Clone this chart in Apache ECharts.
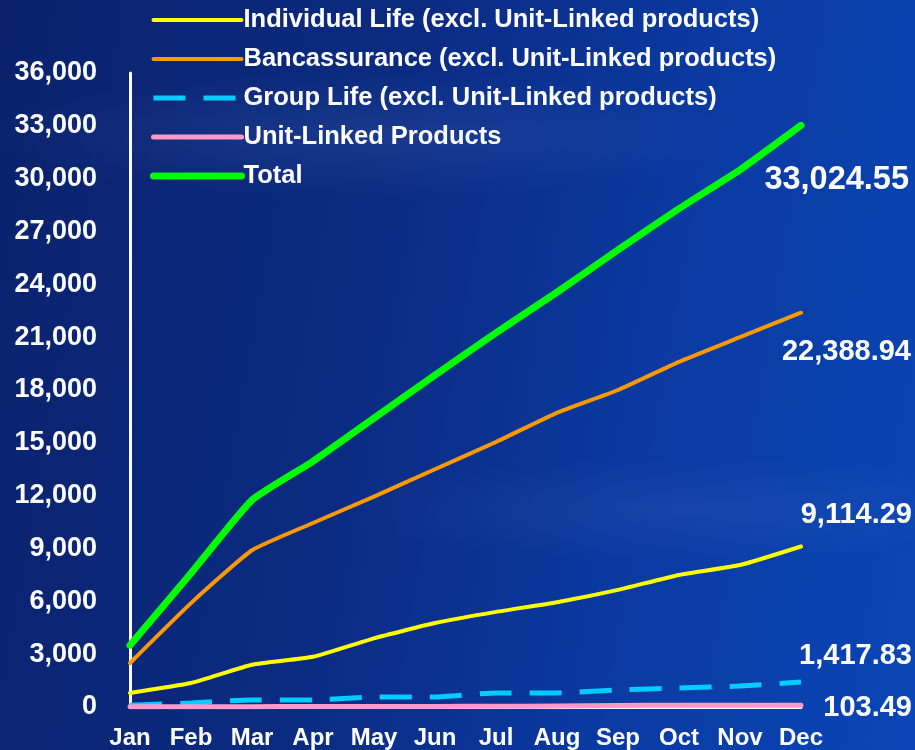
<!DOCTYPE html>
<html>
<head>
<meta charset="utf-8">
<script src="https://cdn.jsdelivr.net/npm/echarts@6/dist/echarts.min.js"></script>
<style>
  html, body { margin: 0; padding: 0; }
  body {
    width: 915px; height: 750px; overflow: hidden;
    background:
      radial-gradient(ellipse 60% 12% at 40% 18%, rgba(120,150,220,0.14), rgba(0,0,0,0) 70%),
      radial-gradient(ellipse 55% 10% at 75% 68%, rgba(120,150,220,0.10), rgba(0,0,0,0) 70%),
      linear-gradient(100deg, #0a226c 0%, #0b2b82 40%, #0a3aa2 70%, #0a46b6 100%);
  }
  #chart { width: 915px; height: 750px; }
</style>
</head>
<body>
<div id="chart"></div>
<script>
const months = ['Jan', 'Feb', 'Mar', 'Apr', 'May', 'Jun', 'Jul', 'Aug', 'Sep', 'Oct', 'Nov', 'Dec']
const individualLife = [800, 1360, 2400, 2850, 3900, 4770, 5400, 5950, 6650, 7500, 8060, 9114.29]
const bancassurance = [2500, 5900, 8900, 10450, 11950, 13500, 15050, 16700, 18000, 19600, 21000, 22388.94]
const groupLife = [100, 230, 400, 400, 570, 570, 800, 800, 970, 1080, 1190, 1417.83]
const unitLinked = [10, 15, 20, 25, 30, 35, 40, 50, 90, 95, 100, 103.49]
const total = [3500, 7600, 11750, 13950, 16400, 18850, 21250, 23550, 25950, 28300, 30500, 33024.55]
const yTicks = { min: 0, max: 36000, interval: 3000 }

const font = '"Liberation Sans", Arial, sans-serif'
const chart = echarts.init(document.getElementById('chart'))

const fmt = v => v.toLocaleString('en-US', { minimumFractionDigits: 2, maximumFractionDigits: 2 })

// value label at the end of each line, right-aligned at the chart edge
const endLabel = (dx, dy, size) => ({
  show: true,
  align: 'right',
  verticalAlign: 'middle',
  offset: [dx, dy],
  fontFamily: font,
  fontWeight: 'bold',
  fontSize: size,
  color: '#fff',
  formatter: p => fmt(p.value)
})

const lineSeries = (name, data, color, width, label, extra) => Object.assign({
  name,
  type: 'line',
  data,
  symbol: 'none',
  smooth: 0.15,
  lineStyle: { color, width, cap: 'round', join: 'round' },
  itemStyle: { color },
  endLabel: label,
  emphasis: { disabled: true }
}, extra || {})

const legendItem = (name, width) => ({ name, lineStyle: { width } })

const option = {
  backgroundColor: 'transparent',
  animation: false,
  textStyle: { fontFamily: font },
  legend: {
    orient: 'vertical',
    left: 150,
    top: 7,
    padding: 0,
    itemWidth: 88,
    itemHeight: 18,
    itemGap: 13,
    itemStyle: { opacity: 0 },
    textStyle: { fontFamily: font, fontWeight: 'bold', fontSize: 25.5, lineHeight: 26, color: '#fff', padding: [0, 0, 0, -3] },
    data: [
      legendItem('Individual Life (excl. Unit-Linked products)', 4),
      legendItem('Bancassurance (excl. Unit-Linked products)', 4),
      legendItem('Group Life (excl. Unit-Linked products)', 5),
      legendItem('Unit-Linked Products', 5),
      legendItem('Total', 7)
    ]
  },
  grid: { left: 130, right: 114, top: 73, bottom: 43 },
  xAxis: {
    type: 'category',
    data: months,
    boundaryGap: false,
    axisLine: { lineStyle: { color: '#fff', width: 3 } },
    axisTick: { show: false },
    axisLabel: { interval: 0, fontFamily: font, fontWeight: 'bold', fontSize: 24, color: '#fff', margin: 19 },
    splitLine: { show: false }
  },
  yAxis: {
    type: 'value',
    min: yTicks.min,
    max: yTicks.max,
    interval: yTicks.interval,
    axisLine: { show: true, lineStyle: { color: '#fff', width: 3 } },
    axisTick: { show: false },
    splitLine: { show: false },
    axisLabel: {
      fontFamily: font, fontWeight: 'bold', fontSize: 27, color: '#fff', margin: 33,
      formatter: v => v.toLocaleString('en-US')
    }
  },
  series: [
    lineSeries('Individual Life (excl. Unit-Linked products)', individualLife, '#ffff00', 4, endLabel(103, -31, 29)),
    lineSeries('Bancassurance (excl. Unit-Linked products)', bancassurance, '#ff9900', 4, endLabel(102, 39, 29)),
    lineSeries('Group Life (excl. Unit-Linked products)', groupLife, '#00ccff', 5, endLabel(103, -26, 29),
      { lineStyle: { color: '#00ccff', width: 5, type: [32, 18] } }),
    lineSeries('Unit-Linked Products', unitLinked, '#ff99cc', 5, endLabel(103, 3, 29), { z: 3 }),
    lineSeries('Total', total, '#00ff00', 7, endLabel(100, 55, 32.5), { z: 4 })
  ]
}

chart.setOption(option)
</script>
</body>
</html>
